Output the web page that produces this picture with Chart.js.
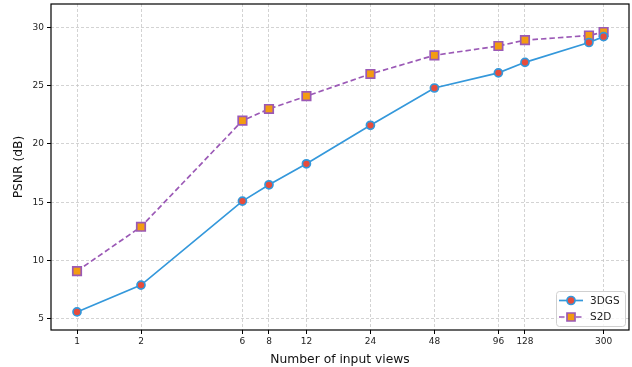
<!DOCTYPE html>
<html>
<head>
<meta charset="utf-8">
<script src="https://cdn.jsdelivr.net/npm/chart.js@4"></script>
<style>
  html, body { margin: 0; padding: 0; background: #fff; }
  #wrap { width: 632px; height: 367px; }
</style>
</head>
<body>
<div id="wrap"><canvas id="psnr-chart" width="632" height="367"></canvas></div>
<script>
// values
const views = [1, 2, 6, 8, 12, 24, 48, 96, 128, 256, 300];
const psnr3dgs = [5.6, 7.9, 15.1, 16.5, 18.3, 21.6, 24.8, 26.1, 27.0, 28.7, 29.2];
const psnrS2D = [9.1, 12.9, 22.0, 23.0, 24.1, 26.0, 27.6, 28.4, 28.9, 29.3, 29.6];
const xTickValues = [1, 2, 6, 8, 12, 24, 48, 96, 128, 300];
const yTickValues = [5, 10, 15, 20, 25, 30];
const seriesNames = ['3DGS', 'S2D'];

const FONT = 'DejaVu Sans, sans-serif';

// frame around the plot + legend in the lower right corner
const framePlugin = {
    id: 'frame',
    afterDraw(chart) {
        const { ctx, chartArea: a } = chart;
        ctx.save();
        ctx.strokeStyle = '#000';
        ctx.lineWidth = 1.2;
        ctx.strokeRect(a.left, a.top, a.right - a.left, a.bottom - a.top);

        // legend box
        const bw = 69, bh = 35;
        const bx = a.right - bw - 4, by = a.bottom - bh - 4;
        ctx.fillStyle = 'rgba(255,255,255,0.8)';
        ctx.strokeStyle = '#d0d0d0';
        ctx.lineWidth = 1;
        ctx.beginPath();
        ctx.roundRect(bx + 0.5, by + 0.5, bw, bh, 3);
        ctx.fill();
        ctx.stroke();

        chart.data.datasets.forEach((ds, i) => {
            const ly = by + 9.5 + i * 16.5;
            const lx1 = bx + 3, lx2 = bx + 27;
            ctx.strokeStyle = ds.borderColor;
            ctx.lineWidth = ds.borderWidth;
            ctx.setLineDash(ds.borderDash || []);
            ctx.beginPath();
            ctx.moveTo(lx1, ly);
            ctx.lineTo(lx2, ly);
            ctx.stroke();
            ctx.setLineDash([]);
            const cx = (lx1 + lx2) / 2;
            ctx.fillStyle = ds.pointBackgroundColor;
            ctx.strokeStyle = ds.pointBorderColor;
            ctx.lineWidth = ds.pointBorderWidth;
            ctx.beginPath();
            if (ds.pointStyle === 'rect') {
                ctx.rect(cx - 4, ly - 4, 8, 8);
            } else {
                ctx.arc(cx, ly, 4, 0, Math.PI * 2);
            }
            ctx.fill();
            ctx.stroke();
            ctx.fillStyle = '#222';
            ctx.font = '10.5px ' + FONT;
            ctx.textBaseline = 'middle';
            ctx.fillText(ds.label, bx + 34, ly + 0.5);
        });
        ctx.restore();
    }
};

function toPoints(ys) {
    return views.map((v, i) => ({ x: v, y: ys[i] }));
}

const ctx = document.getElementById('psnr-chart').getContext('2d');
new Chart(ctx, {
    type: 'line',
    data: {
        datasets: [
            {
                label: seriesNames[0],
                data: toPoints(psnr3dgs),
                borderColor: '#3498db',
                borderWidth: 1.7,
                pointStyle: 'circle',
                pointRadius: 4,
                pointBackgroundColor: '#e74c3c',
                pointBorderColor: '#3498db',
                pointBorderWidth: 1.7,
                tension: 0
            },
            {
                label: seriesNames[1],
                data: toPoints(psnrS2D),
                borderColor: '#9b59b6',
                borderWidth: 1.7,
                borderDash: [5.5, 3],
                pointStyle: 'rect',
                pointRadius: 6,
                pointBackgroundColor: '#f39c12',
                pointBorderColor: '#9b59b6',
                pointBorderWidth: 1.7,
                tension: 0
            }
        ]
    },
    options: {
        responsive: false,
        animation: false,
        layout: { autoPadding: false, padding: { left: 0, right: 3, top: 4, bottom: 0 } },
        plugins: {
            legend: { display: false },
            tooltip: { enabled: false }
        },
        scales: {
            x: {
                type: 'logarithmic',
                min: 0.7545,
                max: 395,
                afterBuildTicks: scale => {
                    scale.ticks = xTickValues.map(v => ({ value: v }));
                },
                afterFit: scale => {
                    scale.height = 37;
                    scale.paddingLeft = 0;
                    scale.paddingRight = 0;
                },
                ticks: {
                    autoSkip: false,
                    maxRotation: 0,
                    color: '#222',
                    font: { family: FONT, size: 9 },
                    padding: 2,
                    callback: v => String(v)
                },
                grid: {
                    color: '#c8c8c8',
                    lineWidth: 0.8,
                    tickColor: '#000',
                    tickLength: 4,
                    tickWidth: 1
                },
                border: { display: false, dash: [3, 2] },
                title: {
                    display: true,
                    text: 'Number of input views',
                    color: '#111',
                    font: { family: FONT, size: 12.3 },
                    padding: { top: 0, bottom: 0 }
                }
            },
            y: {
                type: 'linear',
                min: 4.05,
                max: 32,
                afterBuildTicks: scale => {
                    scale.ticks = yTickValues.map(v => ({ value: v }));
                },
                afterFit: scale => {
                    scale.width = 51;
                    scale.paddingTop = 0;
                    scale.paddingBottom = 0;
                },
                ticks: {
                    color: '#222',
                    font: { family: FONT, size: 9 },
                    padding: 3
                },
                grid: {
                    color: '#c8c8c8',
                    lineWidth: 0.8,
                    tickColor: '#000',
                    tickLength: 4,
                    tickWidth: 1
                },
                border: { display: false, dash: [3, 2] },
                title: {
                    display: true,
                    text: 'PSNR (dB)',
                    color: '#111',
                    font: { family: FONT, size: 12.3 },
                    padding: { top: 11, bottom: 0 }
                }
            }
        }
    },
    plugins: [framePlugin]
});
</script>
</body>
</html>
